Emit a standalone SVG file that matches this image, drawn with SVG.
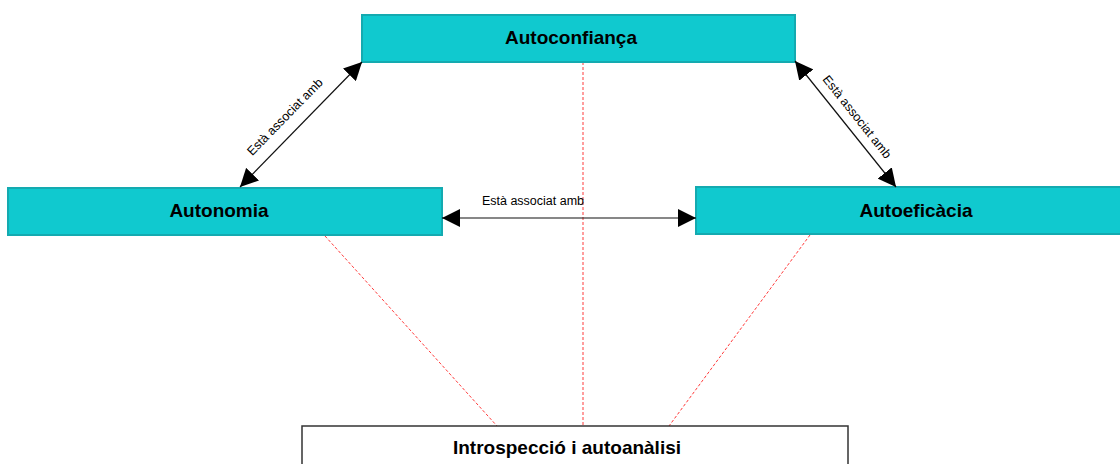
<svg xmlns="http://www.w3.org/2000/svg" width="1120" height="464" viewBox="0 0 1120 464">
  <style>
    .node { fill: #10c9cf; stroke: #14aab0; stroke-width: 2; }
    .plain { fill: #ffffff; stroke: #333333; stroke-width: 1.5; }
    .title { font-family: "Liberation Sans", Arial, sans-serif; font-weight: bold; font-size: 19px; fill: #000; text-anchor: middle; }
    .lbl { font-family: "Liberation Sans", Arial, sans-serif; font-size: 12.5px; fill: #000; text-anchor: middle; }
    .assoc { stroke: #111; stroke-width: 1.2; fill: none; marker-start: url(#tip); marker-end: url(#tip); }
    .link { stroke: #ff3b3b; stroke-width: 1; stroke-dasharray: 3 2; fill: none; }
  </style>
  <defs>
    <marker id="tip" markerUnits="userSpaceOnUse" markerWidth="18" markerHeight="18" refX="18" refY="9" orient="auto-start-reverse" viewBox="0 0 18 18">
      <path d="M0,0 L18,9 L0,18 Z" fill="#000"/>
    </marker>
  </defs>
  <rect width="1120" height="464" fill="#ffffff"/>

  <!-- dashed links down to the bottom box -->
  <g id="links">
    <line class="link" x1="325" y1="236" x2="497" y2="426"/>
    <line class="link" x1="583" y1="62" x2="583" y2="426"/>
    <line class="link" x1="810" y1="235" x2="669" y2="426"/>
  </g>

  <g id="autoconfianca">
    <rect class="node" x="362" y="15" width="433" height="47"/>
    <text class="title" x="571" y="44">Autoconfiança</text>
  </g>
  <g id="autonomia">
    <rect class="node" x="8" y="188" width="434" height="47"/>
    <text class="title" x="219" y="217">Autonomia</text>
  </g>
  <g id="autoeficacia">
    <rect class="node" x="696" y="187" width="440" height="47"/>
    <text class="title" x="916" y="217">Autoeficàcia</text>
  </g>
  <g id="introspeccio">
    <rect class="plain" x="302" y="426" width="546" height="50"/>
    <text class="title" x="567" y="454">Introspecció i autoanàlisi</text>
  </g>

  <!-- association connectors -->
  <g id="connectors">
    <line class="assoc" x1="240" y1="187" x2="362" y2="62"/>
    <text class="lbl" transform="translate(285,117) rotate(-45.7)" y="4">Està associat amb</text>
    <line class="assoc" x1="795" y1="61" x2="896" y2="187"/>
    <text class="lbl" transform="translate(857,117) rotate(51.5)" y="4">Està associat amb</text>
    <line class="assoc" x1="442" y1="218" x2="696" y2="218"/>
    <text class="lbl" x="533" y="205">Està associat amb</text>
  </g>
</svg>
